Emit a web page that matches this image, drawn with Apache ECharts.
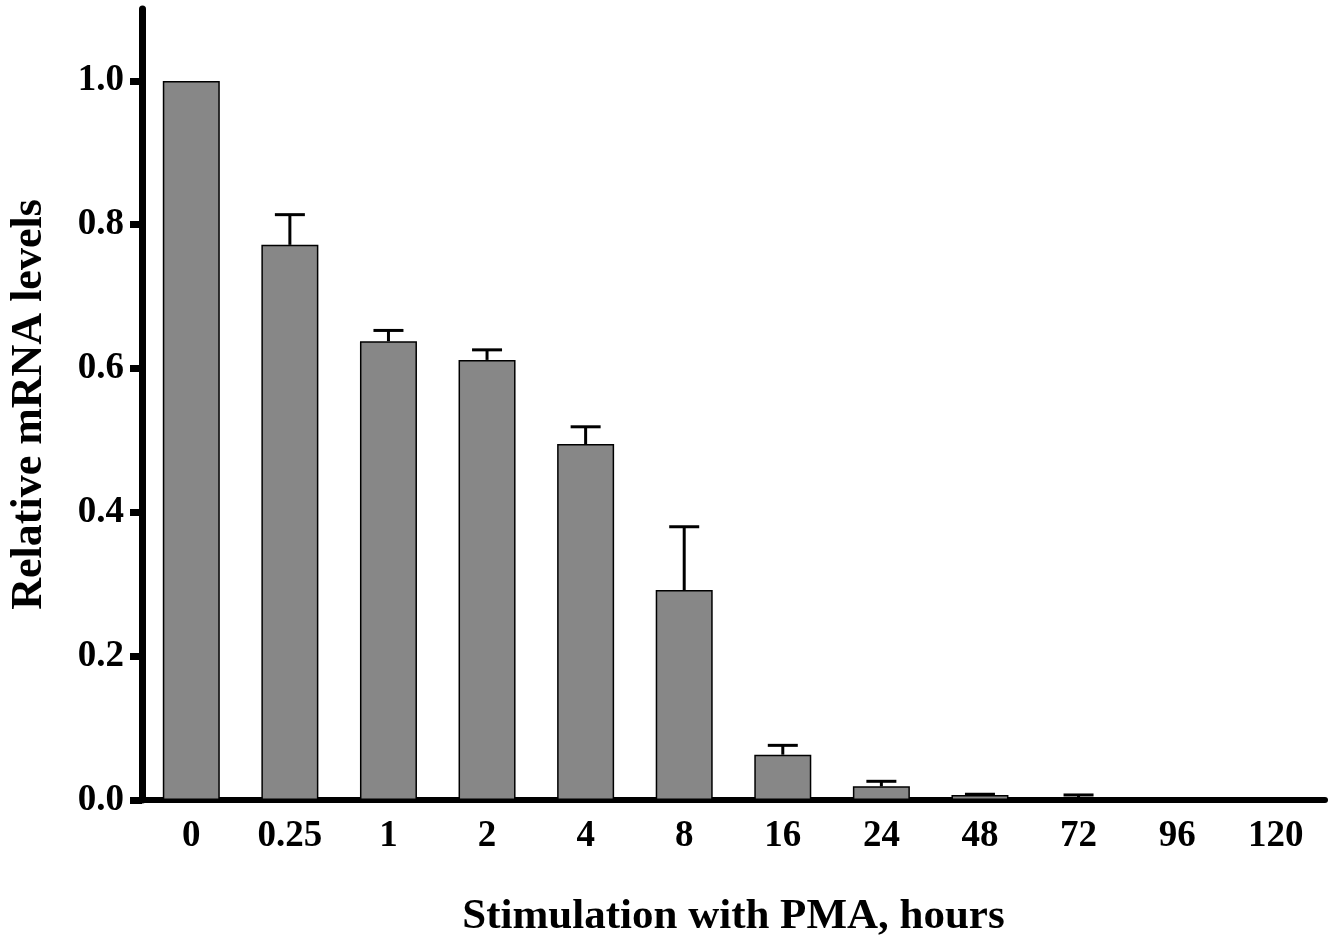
<!DOCTYPE html>
<html>
<head>
<meta charset="utf-8">
<script src="https://cdn.jsdelivr.net/npm/echarts@6/dist/echarts.min.js"></script>
<style>
  html, body { margin: 0; padding: 0; background: #fff; }
  #chart { width: 1333px; height: 943px; }
</style>
</head>
<body>
<div id="chart"></div>
<script>
// categories (hours of PMA stimulation)
const hours = ['0', '0.25', '1', '2', '4', '8', '16', '24', '48', '72', '96', '120'];
// mean relative mRNA levels
const means = [1.0, 0.772, 0.638, 0.612, 0.495, 0.292, 0.063, 0.019, 0.007, 0.001, 0, 0];
// top of the error bar (mean + SD)
const errTops = [null, 0.814, 0.653, 0.626, 0.519, 0.380, 0.076, 0.026, 0.008, 0.007, null, null];
// y tick values
const yTicks = [0, 0.2, 0.4, 0.6, 0.8, 1.0];

const font = '"Liberation Serif", "DejaVu Serif", serif';

const errData = [];
hours.forEach((h, i) => {
  if (errTops[i] != null) errData.push([i, means[i], errTops[i]]);
});

const myChart = echarts.init(document.getElementById('chart'));

const option = {
  backgroundColor: '#fff',
  animation: false,
  grid: { left: 139.5, right: 8, top: 9, bottom: 141 },
  xAxis: {
    type: 'category',
    data: hours,
    boundaryGap: true,
    name: 'Stimulation with PMA, hours',
    nameLocation: 'middle',
    nameGap: 95,
    nameTextStyle: { fontFamily: font, fontWeight: 'bold', fontSize: 43, color: '#000' },
    axisLine: { lineStyle: { color: '#000', width: 6 } },
    axisTick: { alignWithLabel: true, length: 13, lineStyle: { color: '#000', width: 7 } },
    axisLabel: { margin: 18, fontFamily: font, fontWeight: 'bold', fontSize: 37, color: '#000' },
    splitLine: { show: false }
  },
  yAxis: {
    type: 'value',
    min: 0,
    max: 1.1,
    name: 'Relative mRNA levels',
    nameLocation: 'middle',
    nameGap: 90,
    nameTextStyle: { fontFamily: font, fontWeight: 'bold', fontSize: 44, color: '#000' },
    axisLine: { show: true, lineStyle: { color: '#000', width: 7 } },
    axisTick: { show: true, length: 12, customValues: yTicks, lineStyle: { color: '#000', width: 7 } },
    axisLabel: {
      margin: 18,
      customValues: yTicks,
      fontFamily: font, fontWeight: 'bold', fontSize: 37, color: '#000',
      formatter: v => v.toFixed(1)
    },
    splitLine: { show: false }
  },
  series: [
    {
      type: 'bar',
      data: means,
      barWidth: 57,
      itemStyle: { color: '#878787', borderColor: '#000', borderWidth: 1.5 },
      z: 2
    },
    {
      type: 'custom',
      data: errData,
      z: 3,
      renderItem: function (params, api) {
        const x = api.value(0);
        const low = api.coord([x, api.value(1)]);
        const high = api.coord([x, api.value(2)]);
        const half = 15;
        const style = { stroke: '#000', lineWidth: 3 };
        return {
          type: 'group',
          children: [
            { type: 'line', shape: { x1: low[0], y1: low[1], x2: high[0], y2: high[1] }, style: style },
            { type: 'line', shape: { x1: high[0] - half, y1: high[1], x2: high[0] + half, y2: high[1] }, style: style }
          ]
        };
      }
    }
  ]
};

myChart.setOption(option);
</script>
</body>
</html>
